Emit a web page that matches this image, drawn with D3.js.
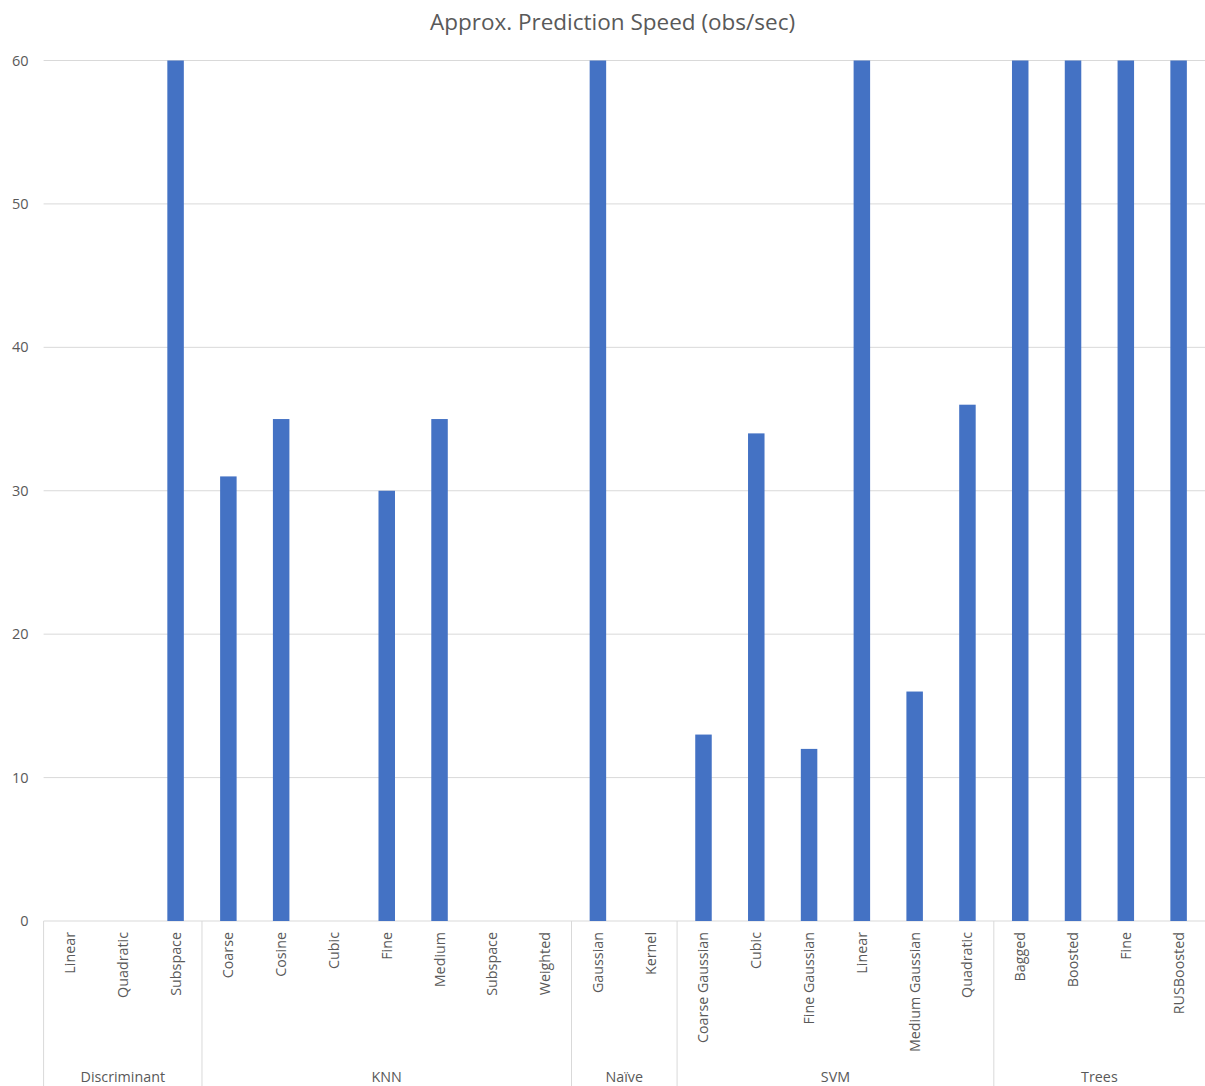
<!DOCTYPE html>
<html>
<head>
<meta charset="utf-8">
<script src="https://cdn.jsdelivr.net/npm/d3@7"></script>
<style>
  html, body { margin: 0; padding: 0; background: #fff; }
  svg { display: block; font-family: "Open Sans", "Noto Sans", sans-serif; }
</style>
</head>
<body>
<svg id="chart" width="1205" height="1086"></svg>
<script>
// Model families and the variants within each
const groups = ["Discriminant", "KNN", "Naïve", "SVM", "Trees"];
const groupSizes = [3, 7, 2, 6, 4];
const categories = [
  "Linear", "Quadratic", "Subspace",
  "Coarse", "Cosine", "Cubic", "Fine", "Medium", "Subspace", "Weighted",
  "Gaussian", "Kernel",
  "Coarse Gaussian", "Cubic", "Fine Gaussian", "Linear", "Medium Gaussian", "Quadratic",
  "Bagged", "Boosted", "Fine", "RUSBoosted"
];
// Approx. prediction speed (obs/sec), axis capped at 60
const speeds = [
  0, 0, 60,
  31, 35, 0, 30, 35, 0, 0,
  60, 0,
  13, 34, 12, 60, 16, 36,
  60, 60, 60, 60
];
const yTicks = [0, 10, 20, 30, 40, 50, 60];

const svg = d3.select("#chart");
const margin = { left: 43.6, right: 1205, top: 60.5, bottom: 921 };

const x = d3.scaleBand()
  .domain(d3.range(categories.length))
  .range([margin.left, margin.right])
  .paddingInner(0)
  .paddingOuter(0);

const y = d3.scaleLinear().domain([0, 60]).range([margin.bottom, margin.top]);

const textColor = "#595959";
const gridColor = "#d9d9d9";

// Title
svg.append("text")
  .attr("x", 612.5)
  .attr("y", 30)
  .attr("text-anchor", "middle")
  .attr("fill", textColor)
  .attr("font-size", 22.5)
  .text("Approx. Prediction Speed (obs/sec)");

// Horizontal gridlines
svg.append("g")
  .selectAll("line")
  .data(yTicks)
  .join("line")
  .attr("x1", margin.left)
  .attr("x2", margin.right)
  .attr("y1", d => y(d))
  .attr("y2", d => y(d))
  .attr("stroke", gridColor)
  .attr("stroke-width", 1);

// Y tick labels
svg.append("g")
  .selectAll("text")
  .data(yTicks)
  .join("text")
  .attr("x", 28.5)
  .attr("y", d => y(d) + 5)
  .attr("text-anchor", "end")
  .attr("fill", textColor)
  .attr("font-size", 14.5)
  .text(d => d);

// Bars
const barW = 16.5;
svg.append("g")
  .selectAll("rect")
  .data(speeds)
  .join("rect")
  .attr("x", (d, i) => x(i) + x.bandwidth() / 2 - barW / 2)
  .attr("width", barW)
  .attr("y", d => y(d))
  .attr("height", d => y(0) - y(d))
  .attr("fill", "#4472C4");

// Category labels (rotated)
svg.append("g")
  .selectAll("text")
  .data(categories)
  .join("text")
  .attr("transform", (d, i) => `translate(${x(i) + x.bandwidth() / 2 + 5},932) rotate(-90)`)
  .attr("text-anchor", "end")
  .attr("fill", textColor)
  .attr("font-size", 14.3)
  .text(d => d);

// Group separators and labels
const starts = [0];
groupSizes.forEach((n, i) => starts.push(starts[i] + n));
const boundaryX = i => i < categories.length ? x(i) : margin.right;

svg.append("g")
  .selectAll("line")
  .data(starts.slice(0, -1))
  .join("line")
  .attr("x1", d => boundaryX(d))
  .attr("x2", d => boundaryX(d))
  .attr("y1", margin.bottom)
  .attr("y2", 1086)
  .attr("stroke", gridColor)
  .attr("stroke-width", 1);

svg.append("g")
  .selectAll("text")
  .data(groups)
  .join("text")
  .attr("x", (d, i) => (boundaryX(starts[i]) + boundaryX(starts[i + 1])) / 2)
  .attr("y", 1082)
  .attr("text-anchor", "middle")
  .attr("fill", textColor)
  .attr("font-size", 14.3)
  .text(d => d);
</script>
</body>
</html>
